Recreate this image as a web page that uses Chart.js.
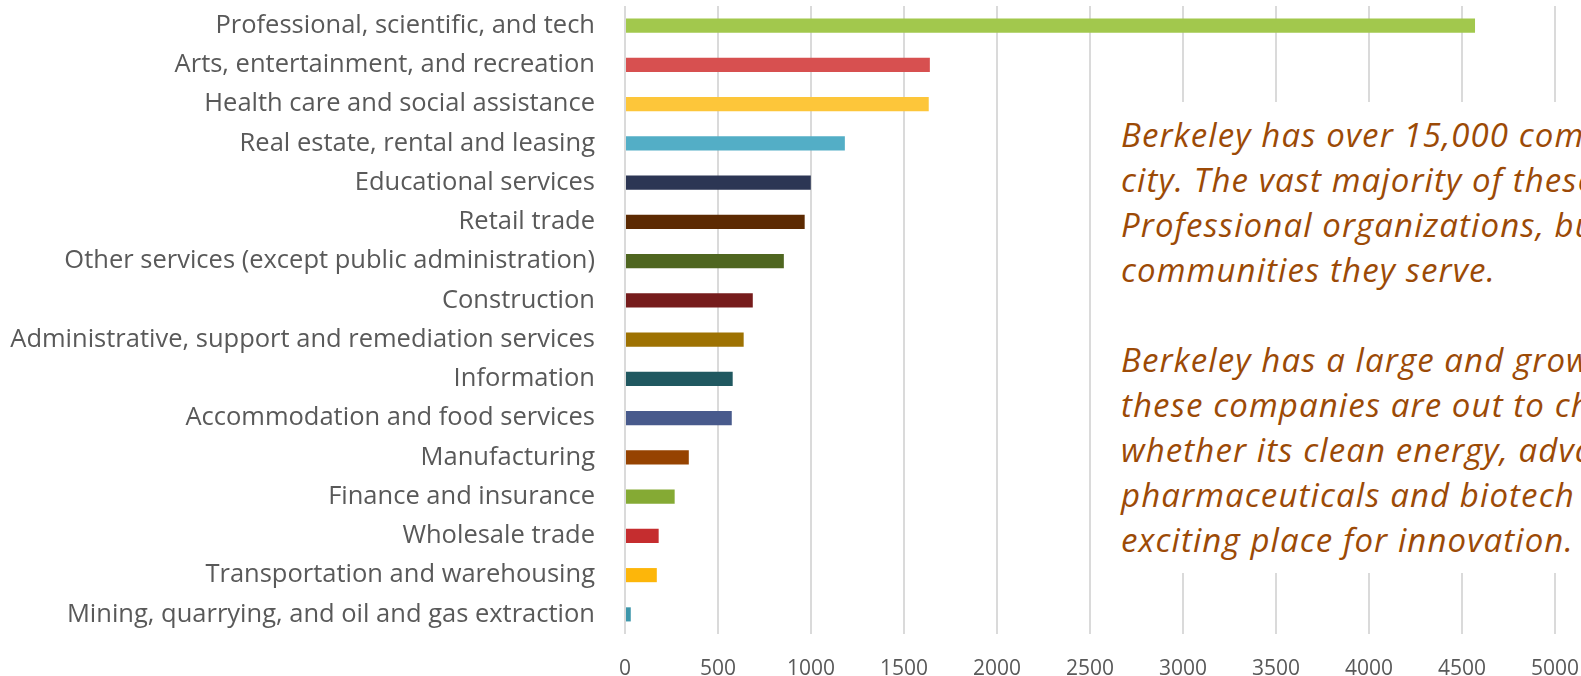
<!DOCTYPE html>
<html>
<head>
<meta charset="utf-8">
<script src="https://cdn.jsdelivr.net/npm/chart.js@4/dist/chart.umd.min.js"></script>
<style>
  body { margin: 0; background: #fff; overflow: hidden; }
  #wrap { position: relative; width: 1581px; height: 676px; }
  #industryChart { display: block; }
  #note {
    position: absolute; left: 1100px; top: 102px; width: 481px; height: 471px;
    background: #fff; overflow: hidden; box-sizing: border-box;
    padding: 10px 0 0 21px;
    font-family: "Open Sans", sans-serif; font-style: italic; font-size: 33px;
    letter-spacing: 1.1px;
    line-height: 45px; color: #9c4a06; white-space: nowrap;
  }
</style>
</head>
<body>
<div id="wrap">
  <canvas id="industryChart" width="1581" height="676"></canvas>
  <div id="note">
    Berkeley has over 15,000 companies<br>
    city. The vast majority of these<br>
    Professional organizations, but<br>
    communities they serve.<br>
    <br>
    Berkeley has a large and growing<br>
    these companies are out to change<br>
    whether its clean energy, advanced<br>
    pharmaceuticals and biotech<br>
    exciting place for innovation.
  </div>
</div>
<script>

let industries = [
    "Professional, scientific, and tech",
    "Arts, entertainment, and recreation",
    "Health care and social assistance",
    "Real estate, rental and leasing",
    "Educational services",
    "Retail trade",
    "Other services (except public administration)",
    "Construction",
    "Administrative, support and remediation services",
    "Information",
    "Accommodation and food services",
    "Manufacturing",
    "Finance and insurance",
    "Wholesale trade",
    "Transportation and warehousing",
    "Mining, quarrying, and oil and gas extraction"
];

let companies = [4570, 1639, 1633, 1182, 999, 966, 854, 687, 638, 579, 574, 343, 267, 181, 171, 31];

let axisMin = 0;
let axisMax = 5000;
let axisStep = 500;

let barColors = ["#a2c84d", "#d75050", "#fdc63a", "#53aec6", "#2c3654", "#5c2a02", "#4f6620", "#761c1c",
                 "#9e7202", "#205860", "#485a8c", "#964301", "#85aa34", "#c52d2f", "#fdb60a", "#3d96aa"];

let ctx = document.getElementById("industryChart").getContext("2d")

let myBarChart = new Chart(ctx, {
    type: 'bar',
    data: {
        labels: industries,
        datasets: [{
            data: companies,
            backgroundColor: barColors,
            barPercentage: 0.36,
            categoryPercentage: 1.0
        }]
    },
    options: {
        indexAxis: 'y',
        responsive: false,
        animation: false,
        layout: { padding: { top: 6, right: 26, left: 0, bottom: 0 } },
        plugins: {
            legend: { display: false },
            tooltip: { enabled: false }
        },
        scales: {
            y: {
                // fixed axis width so the plot starts where the original does
                afterFit: function (scale) {
                    scale.width = 625;
                    scale.paddingTop = 0;
                    scale.paddingBottom = 0;
                },
                grid: { display: false, drawTicks: false },
                border: { display: false },
                ticks: {
                    autoSkip: false,
                    padding: 30,
                    color: '#595959',
                    font: { family: 'Open Sans', size: 25.5 }
                }
            },
            x: {
                min: axisMin,
                max: axisMax,
                afterFit: function (scale) {
                    scale.height = 42;
                    scale.paddingLeft = 0;
                    scale.paddingRight = 0;
                },
                grid: { color: '#dadada', lineWidth: 2, drawTicks: false },
                border: { display: false },
                ticks: {
                    stepSize: axisStep,
                    padding: 22,
                    color: '#595959',
                    font: { family: 'Open Sans', size: 21 },
                    callback: function (value) { return value; }
                }
            }
        }
    }
});
</script>
</body>
</html>
